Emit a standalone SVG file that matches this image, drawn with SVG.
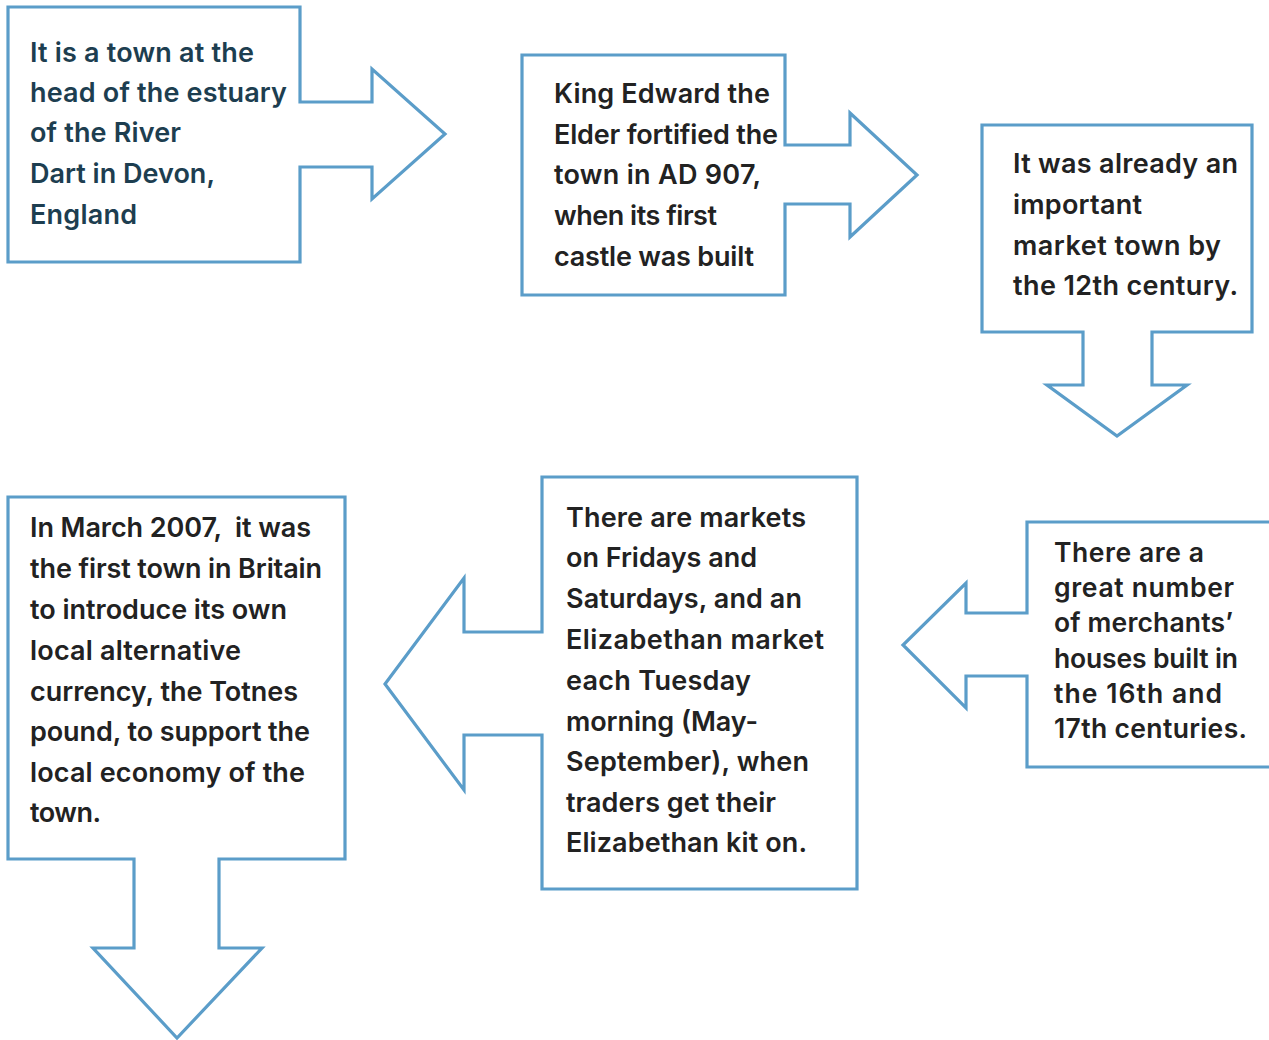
<svg xmlns="http://www.w3.org/2000/svg" width="1269" height="1040" viewBox="0 0 1269 1040">
<style>
.shape{fill:#ffffff;stroke:#5b9dc9;stroke-width:3.2;stroke-linejoin:miter}
.t{font-family:Inter,"Noto Sans","Liberation Sans",sans-serif;font-weight:600;font-size:27px;fill:#222222}
.t1{fill:#1d3e50}
.t6{font-size:26.5px}
</style>
<rect width="1269" height="1040" fill="#ffffff"/>
<g id="connectors"/>
<g id="node1">
<path class="shape" d="M8,7 H300 V102 H372 V69 L445,134 L372,199 V167 H300 V262 H8 Z"/>
<text class="t t1" x="30" y="62" textLength="224">It is a town at the</text>
<text class="t t1" x="30" y="102" textLength="257">head of the estuary</text>
<text class="t t1" x="30" y="142" textLength="151">of the River</text>
<text class="t t1" x="30" y="183" textLength="185">Dart in Devon,</text>
<text class="t t1" x="30" y="224" textLength="107">England</text>
</g>
<g id="node2">
<path class="shape" d="M522,55 H785 V145 H850 V113 L917,175 L850,237 V204 H785 V295 H522 Z"/>
<text class="t" x="554" y="103" textLength="216">King Edward the</text>
<text class="t" x="554" y="144" textLength="224">Elder fortified the</text>
<text class="t" x="554" y="184" textLength="207">town in AD 907,</text>
<text class="t" x="554" y="225" textLength="163">when its first</text>
<text class="t" x="554" y="266" textLength="200">castle was built</text>
</g>
<g id="node3">
<path class="shape" d="M982,125 H1252 V332 H1152 V385 H1187 L1117,436 L1047,385 H1083 V332 H982 Z"/>
<text class="t" x="1013" y="173" textLength="225">It was already an</text>
<text class="t" x="1013" y="214" textLength="129">important</text>
<text class="t" x="1013" y="255" textLength="208">market town by</text>
<text class="t" x="1013" y="295" textLength="225">the 12th century.</text>
</g>
<g id="node4">
<path class="shape" d="M8,497 H345 V859 H219 V948 H262 L177,1038 L93,948 H134 V859 H8 Z"/>
<text class="t" x="30" y="537" textLength="281" xml:space="preserve">In March 2007,  it was</text>
<text class="t" x="30" y="578" textLength="292">the first town in Britain</text>
<text class="t" x="30" y="619" textLength="257">to introduce its own</text>
<text class="t" x="30" y="660" textLength="211">local alternative</text>
<text class="t" x="30" y="701" textLength="268">currency, the Totnes</text>
<text class="t" x="30" y="741" textLength="280">pound, to support the</text>
<text class="t" x="30" y="782" textLength="275">local economy of the</text>
<text class="t" x="30" y="822" textLength="71">town.</text>
</g>
<g id="node5">
<path class="shape" d="M542,477 H857 V889 H542 V735 H464 V790 L385,684 L464,578 V632 H542 Z"/>
<text class="t" x="566" y="527" textLength="240">There are markets</text>
<text class="t" x="566" y="567" textLength="191">on Fridays and</text>
<text class="t" x="566" y="608" textLength="236">Saturdays, and an</text>
<text class="t" x="566" y="649" textLength="258">Elizabethan market</text>
<text class="t" x="566" y="690" textLength="185">each Tuesday</text>
<text class="t" x="566" y="731" textLength="192">morning (May-</text>
<text class="t" x="566" y="771" textLength="243">September), when</text>
<text class="t" x="566" y="812" textLength="210">traders get their</text>
<text class="t" x="566" y="852" textLength="241">Elizabethan kit on.</text>
</g>
<g id="node6">
<path class="shape" d="M1027,522 H1285 V767 H1027 V676 H966 V708 L903,645 L966,583 V613 H1027 Z"/>
<text class="t t6" x="1054" y="562" textLength="150">There are a</text>
<text class="t t6" x="1054" y="597" textLength="180">great number</text>
<text class="t t6" x="1054" y="632" textLength="179">of merchants’</text>
<text class="t t6" x="1054" y="668" textLength="184">houses built in</text>
<text class="t t6" x="1054" y="703" textLength="168">the 16th and</text>
<text class="t t6" x="1054" y="738" textLength="193">17th centuries.</text>
</g>
</svg>
